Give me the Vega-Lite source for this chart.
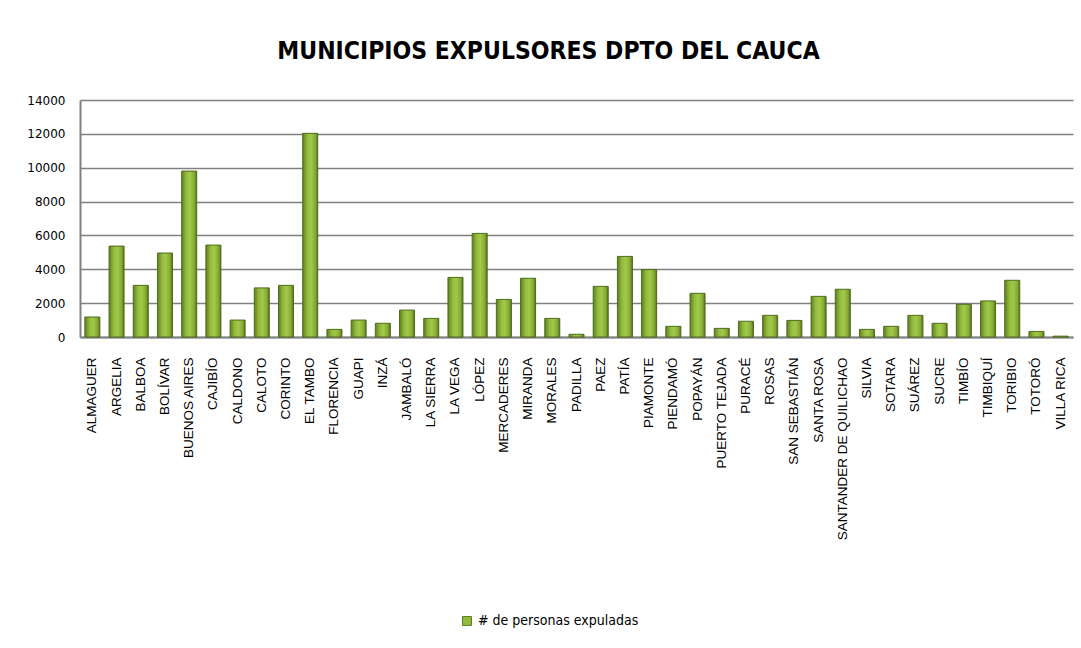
{
  "$schema": "https://vega.github.io/schema/vega-lite/v6.json",
  "width": 993,
  "height": 237,
  "autosize": {"type": "none"},
  "padding": {"left": 80, "top": 100, "right": 8, "bottom": 311},
  "background": "white",
  "title": {
    "text": "MUNICIPIOS EXPULSORES DPTO DEL CAUCA",
    "font": "DejaVu Sans Condensed",
    "fontSize": 24.5,
    "fontWeight": "bold",
    "color": "#000000",
    "anchor": "middle",
    "frame": "group",
    "dx": -28,
    "offset": 30
  },
  "data": {
    "values": [
      {"municipio": "ALMAGUER", "personas": 1180},
      {"municipio": "ARGELIA", "personas": 5370},
      {"municipio": "BALBOA", "personas": 3050},
      {"municipio": "BOLÍVAR", "personas": 4960},
      {"municipio": "BUENOS AIRES", "personas": 9800},
      {"municipio": "CAJIBÍO", "personas": 5430},
      {"municipio": "CALDONO", "personas": 1000},
      {"municipio": "CALOTO", "personas": 2900},
      {"municipio": "CORINTO", "personas": 3050},
      {"municipio": "EL TAMBO", "personas": 12030},
      {"municipio": "FLORENCIA", "personas": 450},
      {"municipio": "GUAPI", "personas": 1000},
      {"municipio": "INZÁ", "personas": 810},
      {"municipio": "JAMBALÓ", "personas": 1590},
      {"municipio": "LA SIERRA", "personas": 1100},
      {"municipio": "LA VEGA", "personas": 3520},
      {"municipio": "LÓPEZ", "personas": 6120},
      {"municipio": "MERCADERES", "personas": 2220},
      {"municipio": "MIRANDA", "personas": 3470},
      {"municipio": "MORALES", "personas": 1100},
      {"municipio": "PADILLA", "personas": 160},
      {"municipio": "PAEZ", "personas": 2990},
      {"municipio": "PATÍA", "personas": 4760},
      {"municipio": "PIAMONTE", "personas": 3980},
      {"municipio": "PIENDAMÓ", "personas": 630},
      {"municipio": "POPAYÁN", "personas": 2580},
      {"municipio": "PUERTO TEJADA", "personas": 510},
      {"municipio": "PURACÉ", "personas": 930},
      {"municipio": "ROSAS", "personas": 1280},
      {"municipio": "SAN SEBASTIÁN", "personas": 980},
      {"municipio": "SANTA ROSA", "personas": 2400},
      {"municipio": "SANTANDER DE QUILICHAO", "personas": 2820},
      {"municipio": "SILVIA", "personas": 450},
      {"municipio": "SOTARA", "personas": 630},
      {"municipio": "SUÁREZ", "personas": 1280},
      {"municipio": "SUCRE", "personas": 810},
      {"municipio": "TIMBÍO", "personas": 1930},
      {"municipio": "TIMBIQUÍ", "personas": 2130},
      {"municipio": "TORIBIO", "personas": 3350},
      {"municipio": "TOTORÓ", "personas": 330},
      {"municipio": "VILLA RICA", "personas": 50}
    ]
  },
  "mark": {
    "type": "bar",
    "stroke": "#4f6b1c",
    "strokeWidth": 1,
    "fill": {
      "gradient": "linear",
      "x1": 0, "y1": 0, "x2": 1, "y2": 0,
      "stops": [
        {"offset": 0, "color": "#5e7f22"},
        {"offset": 0.3, "color": "#92ba3c"},
        {"offset": 0.55, "color": "#a2c94a"},
        {"offset": 0.85, "color": "#84a932"},
        {"offset": 1, "color": "#4f6b1c"}
      ]
    }
  },
  "encoding": {
    "x": {
      "field": "municipio",
      "type": "nominal",
      "sort": null,
      "title": null,
      "scale": {"paddingInner": 0.38, "paddingOuter": 0.2},
      "axis": {
        "labelAngle": -90,
        "labelAlign": "right",
        "labelBaseline": "middle",
        "labelFont": "Liberation Sans",
        "labelFontSize": 13.5,
        "labelColor": "#000000",
        "labelPadding": 20,
        "ticks": false,
        "domainColor": "#808080",
        "domainWidth": 2,
        "grid": false,
        "labelOverlap": false,
        "labelLimit": 300
      }
    },
    "y": {
      "field": "personas",
      "type": "quantitative",
      "title": null,
      "scale": {"domain": [0, 14000], "nice": false},
      "axis": {
        "values": [0, 2000, 4000, 6000, 8000, 10000, 12000, 14000],
        "format": "d",
        "labelFont": "DejaVu Sans",
        "labelFontSize": 12,
        "labelColor": "#000000",
        "labelPadding": 15,
        "ticks": false,
        "domainColor": "#808080",
        "domainWidth": 2,
        "grid": true,
        "gridColor": "#808080",
        "gridWidth": 1.3
      }
    },
    "color": {
      "datum": "# de personas expuladas",
      "type": "nominal",
      "scale": {"range": ["#92ba3c"]},
      "legend": {
        "title": null,
        "orient": "none",
        "legendX": 380,
        "legendY": 514,
        "symbolType": "square",
        "symbolSize": 80,
        "symbolStrokeColor": "#5e7f22",
        "symbolStrokeWidth": 1,
        "labelFont": "DejaVu Sans Condensed",
        "labelFontSize": 14,
        "labelColor": "#000000",
        "labelOffset": 4,
        "labelLimit": 400
      }
    }
  },
  "config": {
    "view": {"stroke": null}
  }
}
